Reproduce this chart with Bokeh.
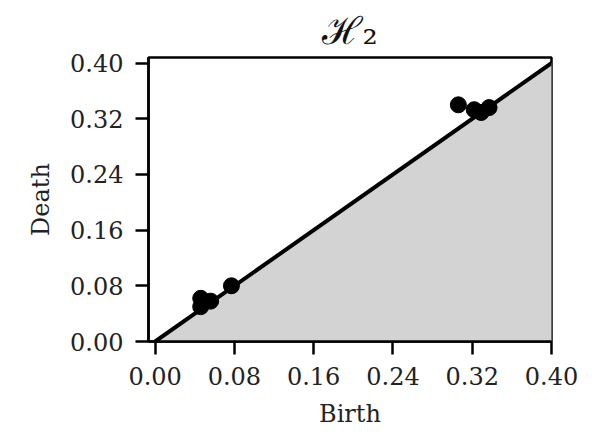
from bokeh.plotting import figure
from bokeh.models import FixedTicker, Range1d
from bokeh.embed import file_html
from bokeh.resources import INLINE

# Persistence diagram, homology dimension 2
birth = [0.306, 0.322, 0.329, 0.337, 0.046, 0.046, 0.056, 0.077]
death = [0.340, 0.333, 0.329, 0.336, 0.062, 0.050, 0.058, 0.080]

tick_values = [0.00, 0.08, 0.16, 0.24, 0.32, 0.40]
tick_labels = ["0.00", "0.08", "0.16", "0.24", "0.32", "0.40"]

x_lim = (-0.0067, 0.40)
y_lim = (0.0, 0.408)
diag_end = 0.41

SERIF = "DejaVu Serif"

p = figure(width=592, height=439, output_backend="svg", toolbar_location=None,
           x_range=Range1d(*x_lim), y_range=Range1d(*y_lim),
           min_border_left=148, min_border_right=41,
           min_border_top=57, min_border_bottom=98)

p.title.text = "ℋ₂"
p.title.align = "center"
p.title.text_font = SERIF
p.title.text_font_size = "38px"
p.title.text_font_style = "normal"
p.title.text_color = "#111111"
p.title.standoff = 9

p.xgrid.visible = False
p.ygrid.visible = False
p.background_fill_color = "white"
p.outline_line_color = "black"
p.outline_line_width = 2.5

# region below the diagonal
p.patch([0, diag_end, diag_end], [0, diag_end, 0], fill_color="#d3d3d3", line_color=None)
p.line([0, diag_end], [0, diag_end], line_color="black", line_width=4)
p.scatter(birth, death, size=16, color="black")

for ax in (p.xaxis, p.yaxis):
    ax.ticker = FixedTicker(ticks=tick_values)
    ax.major_label_overrides = {v: s for v, s in zip(tick_values, tick_labels)}
    ax.major_label_text_font = SERIF
    ax.major_label_text_font_size = "24px"
    ax.major_label_text_color = "#222222"
    ax.axis_label_text_font = SERIF
    ax.axis_label_text_font_size = "24px"
    ax.axis_label_text_font_style = "normal"
    ax.axis_label_text_color = "#222222"
    ax.axis_line_width = 2.5
    ax.major_tick_line_width = 2.5
    ax.major_tick_out = 13
    ax.major_tick_in = 0
    ax.minor_tick_line_color = None
    ax.major_label_standoff = 12

p.xaxis.axis_label = "Birth"
p.yaxis.axis_label = "Death"
p.xaxis.axis_label_standoff = 12
p.yaxis.axis_label_standoff = 12

open("out.html", "w").write(file_html(p, INLINE))
